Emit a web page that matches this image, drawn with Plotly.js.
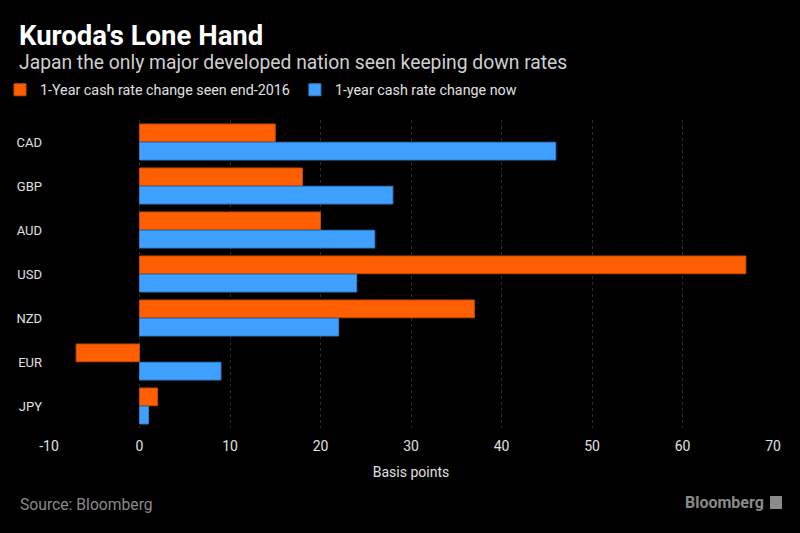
<!DOCTYPE html>
<html>
<head>
<meta charset="utf-8">
<script src="https://cdn.plot.ly/plotly-3.0.1.min.js"></script>
<style>
html,body{margin:0;padding:0;background:#000;}
#chart{width:800px;height:533px;}
</style>
</head>
<body>
<div id="chart"></div>
<script>
const categories = ["CAD", "GBP", "AUD", "USD", "NZD", "EUR", "JPY"];
const seenEnd2016 = [15, 18, 20, 67, 37, -7, 2];
const changeNow = [46, 28, 26, 24, 22, 9, 1];
const seriesNames = ["1-Year cash rate change seen end-2016", "1-year cash rate change now"];
const xTicks = [-10, 0, 10, 20, 30, 40, 50, 60, 70];

const FONT = "Roboto, 'Open Sans', 'DejaVu Sans', sans-serif";
const W = 800, H = 533, ML = 49, MR = 27, MT = 120, MB = 105;
const PW = W - ML - MR, PH = H - MT - MB;
const px = x => (x - ML) / PW;
const py = y => (H - MB - y) / PH;

const traces = [
  {
    type: "bar", orientation: "h", name: seriesNames[0],
    y: categories, x: seenEnd2016,
    marker: {color: "#FF5F00", line: {color: "#C84A00", width: 1}}
  },
  {
    type: "bar", orientation: "h", name: seriesNames[1],
    y: categories, x: changeNow,
    marker: {color: "#3FA0FF", line: {color: "#2F7FCC", width: 1}}
  }
];

const layout = {
  width: W, height: H,
  paper_bgcolor: "#000", plot_bgcolor: "#000",
  font: {family: FONT, color: "#e0e0e0", size: 14},
  margin: {l: ML, r: MR, t: MT, b: MB},
  barmode: "group",
  bargap: 0.17,
  bargroupgap: 0.03,
  showlegend: true,
  legend: {
    orientation: "h", xref: "container", yref: "container",
    x: 0.0, y: 1 - 74/533, xanchor: "left", yanchor: "top",
    font: {family: FONT, size: 14.3, color: "#e0e0e0"},
    itemwidth: 30, traceorder: "normal", bgcolor: "rgba(0,0,0,0)"
  },
  xaxis: {
    range: [-10, 70], tickvals: xTicks, ticktext: xTicks.map(String),
    showgrid: true, gridcolor: "#2c2c2c", griddash: "dot", gridwidth: 1,
    zeroline: false, showline: false, ticks: "", ticklabelstandoff: 8,
    tickfont: {family: FONT, size: 14, color: "#e0e0e0"},
    title: {text: "Basis points", font: {family: FONT, size: 14, color: "#e0e0e0"}, standoff: 14},
    fixedrange: true
  },
  yaxis: {
    autorange: "reversed", showgrid: false, zeroline: false, showline: false,
    ticks: "", ticklabelstandoff: 6,
    tickfont: {family: FONT, size: 13, color: "#e0e0e0"},
    fixedrange: true
  },
  annotations: [
    {text: "<b>Kuroda's Lone Hand</b>", xref: "paper", yref: "paper",
     x: px(17), y: py(35), xanchor: "left", yanchor: "middle", showarrow: false,
     font: {family: FONT, size: 27.5, color: "#ffffff"}},
    {text: "Japan the only major developed nation seen keeping down rates",
     xref: "paper", yref: "paper", x: px(17), y: py(62),
     xanchor: "left", yanchor: "middle", showarrow: false,
     font: {family: FONT, size: 19.3, color: "#cfcfcf"}},
    {text: "Source: Bloomberg",
     xref: "paper", yref: "paper", x: px(18), y: py(504),
     xanchor: "left", yanchor: "middle", showarrow: false,
     font: {family: FONT, size: 15.7, color: "#8a8a8a"}},
    {text: "<b>Bloomberg</b>",
     xref: "paper", yref: "paper", x: px(766), y: py(502),
     xanchor: "right", yanchor: "middle", showarrow: false,
     font: {family: FONT, size: 16, color: "#8a8a8a"}}
  ],
  shapes: [
    {type: "rect", xref: "paper", yref: "paper", layer: "above",
     x0: px(770), x1: px(782), y0: py(509), y1: py(496),
     fillcolor: "#8a8a8a", line: {width: 0}}
  ]
};

Plotly.newPlot("chart", traces, layout, {displayModeBar: false, staticPlot: true});
</script>
</body>
</html>
